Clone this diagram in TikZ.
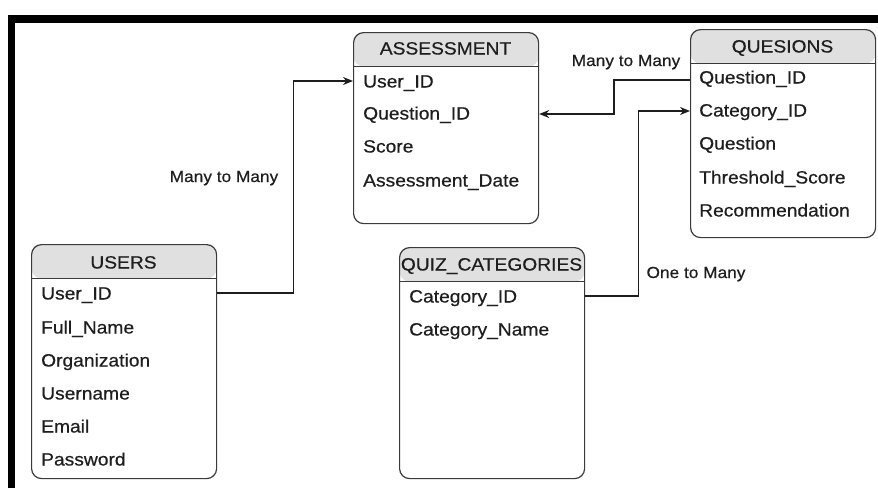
\documentclass[tikz,border=0pt]{standalone}
\usepackage{fontspec}
\setmainfont[FakeStretch=1.08, FakeBold=0.5]{Liberation Sans}
\usetikzlibrary{arrows.meta}
\definecolor{hdr}{HTML}{E0E0E0}
\definecolor{ink}{HTML}{3A3A3A}
\definecolor{txt}{HTML}{1E1E1E}
\tikzset{
  entity/.style={draw=ink, line width=1.2pt, rounded corners=10pt, fill=white,
    inner sep=0pt, anchor=north west, minimum width=185pt, minimum height=#1,
    path picture={
      \fill[hdr] (path picture bounding box.north west)
        rectangle ([yshift=-34pt]path picture bounding box.north east);
      \draw[ink, line width=1.2pt]
        ([yshift=-34pt]path picture bounding box.north west)
        -- ([yshift=-34pt]path picture bounding box.north east);
    }},
  field/.style={anchor=west, inner sep=0pt, text height=13pt, text depth=0pt,
    font=\fontsize{17.8}{20}\selectfont, text=txt},
  title/.style={inner sep=0pt, text height=13pt, text depth=0pt,
    font=\fontsize{17.8}{20}\selectfont, text=txt},
  rel/.style={inner sep=0pt, text height=12pt, text depth=0pt,
    font=\fontsize{16}{19}\selectfont, text=txt},
  link/.style={draw=txt, line width=1.4pt},
  arr/.style={link, -{Stealth[length=10pt,width=8pt]}},
}
\begin{document}
\begin{tikzpicture}[x=1pt, y=-1pt]
\useasboundingbox (0,0) rectangle (878,488);

% frame
\draw[line width=7.5pt, line join=miter, black] (11.5,488) -- (11.5,19) -- (878,19);

% ASSESSMENT
\node[entity=191pt] (assess) at (353,32) {};
\node[title] (assess-t) at (445.5,48) {ASSESSMENT};
\node[field] (a1) at (363,81)  {User\_ID};
\node[field] (a2) at (363,113) {Question\_ID};
\node[field] (a3) at (363,146) {Score};
\node[field] (a4) at (363,180) {Assessment\_Date};

% QUESIONS
\node[entity=208pt] (ques) at (690,29) {};
\node[title] (ques-t) at (782.5,46) {QUESIONS};
\node[field] (q1) at (699,77)  {Question\_ID};
\node[field] (q2) at (699,110) {Category\_ID};
\node[field] (q3) at (699,143) {Question};
\node[field] (q4) at (699,177) {Threshold\_Score};
\node[field] (q5) at (699,210) {Recommendation};

% USERS
\node[entity=234pt] (users) at (31,244) {};
\node[title] (users-t) at (123.5,262) {USERS};
\node[field] (u1) at (41,293) {User\_ID};
\node[field] (u2) at (41,327) {Full\_Name};
\node[field] (u3) at (41,360) {Organization};
\node[field] (u4) at (41,393) {Username};
\node[field] (u5) at (41,426) {Email};
\node[field] (u6) at (41,459) {Password};

% QUIZ_CATEGORIES
\node[entity=231pt] (quiz) at (399,247) {};
\node[title] (quiz-t) at (491.5,264) {QUIZ\_CATEGORIES};
\node[field] (z1) at (409,296) {Category\_ID};
\node[field] (z2) at (409,329) {Category\_Name};

% relationships
\draw[arr] (users.east |- u1) -- ++(76,0) |- (assess.west |- a1);
\draw[arr] ([yshift=-3pt]ques.west |- q1) -- ++(-76,0) |- ([yshift=-1pt]assess.east |- a2);
\draw[arr] (quiz.east |- z1) -- ++(53,0) |- ([yshift=-1pt]ques.west |- q2);

\node[rel] (r1) at (224,176) {Many to Many};
\node[rel] (r2) at (626,60)  {Many to Many};
\node[rel] (r3) at (696,272) {One to Many};
\end{tikzpicture}
\end{document}
